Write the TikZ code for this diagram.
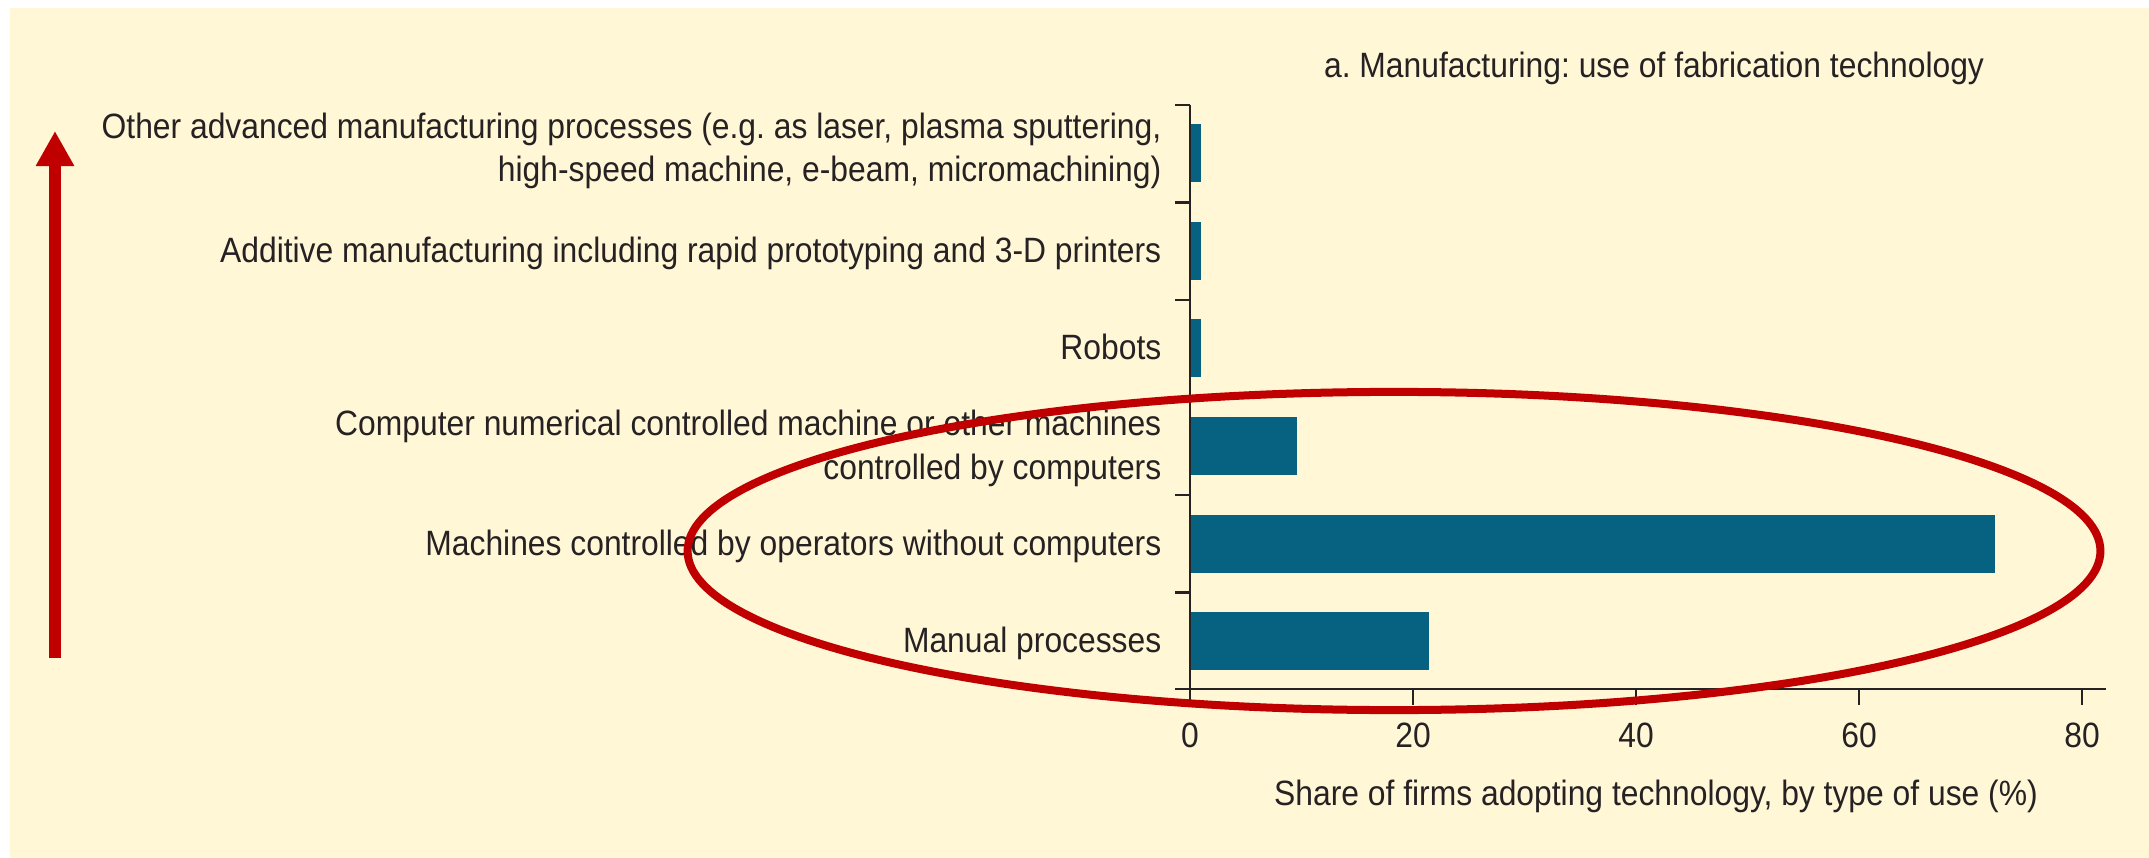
\documentclass[tikz,border=0pt]{standalone}
\usepackage{fontspec}
\setmainfont{Liberation Sans}[FakeStretch=0.905]
\usetikzlibrary{arrows.meta}
\definecolor{cream}{RGB}{255,247,214}
\definecolor{barblue}{RGB}{7,97,129}
\definecolor{hilite}{RGB}{192,0,0}
\definecolor{ink}{RGB}{38,34,35}
\frenchspacing

\begin{document}
\begin{tikzpicture}[x=0.01cm,y=-0.01cm,
  lbl/.style={anchor=base east,inner sep=0pt,align=right,text=ink,font=\fontsize{10}{12.4}\selectfont},
  num/.style={anchor=base,inner sep=0pt,text=ink,font=\fontsize{10}{12.4}\selectfont},
  bar/.style={fill=barblue},
  axis/.style={draw=ink,line width=0.6pt}]
\useasboundingbox[fill=white] (0,0) rectangle (2149,858);
\fill [cream] (10,8) rectangle (2149,858);

\node [num] at (1654,78) (title) {a. Manufacturing: use of fabrication technology};

% bars
\fill [bar] (1190,612) rectangle (1429,670);
\fill [bar] (1190,514.5) rectangle (1995,572.5);
\fill [bar] (1190,417) rectangle (1297,475);
\fill [bar] (1190,319.5) rectangle (1201,377.5);
\fill [bar] (1190,222) rectangle (1201,280);
\fill [bar] (1190,124.5) rectangle (1201,182.5);

% axes
\draw [axis] (1190,105) -- (1190,689);
\draw [axis] (1175,689) -- (2106,689);
\draw [axis] (1175,105) -- (1190,105);
\draw [axis] (1175,202.5) -- (1190,202.5);
\draw [axis] (1175,300) -- (1190,300);
\draw [axis] (1175,397.5) -- (1190,397.5);
\draw [axis] (1175,495) -- (1190,495);
\draw [axis] (1175,592.5) -- (1190,592.5);
\draw [axis] (1190,689) -- (1190,705);
\draw [axis] (1413,689) -- (1413,705);
\draw [axis] (1636,689) -- (1636,705);
\draw [axis] (1859,689) -- (1859,705);
\draw [axis] (2082,689) -- (2082,705);

\node [num] at (1190,747) (t0) {0};
\node [num] at (1413,747) (t20) {20};
\node [num] at (1636,747) (t40) {40};
\node [num] at (1859,747) (t60) {60};
\node [num] at (2082,747) (t80) {80};
\node [num] at (1656,805) (xlabel) {Share of firms adopting technology, by type of use (\%)};

% category labels
\node [lbl] at (1162,652) (manual) {Manual processes};
\node [lbl] at (1162,555) (operators) {Machines controlled by operators without computers};
\node [lbl] at (1162,479) (cnc) {Computer numerical controlled machine or other machines\\controlled by computers};
\node [lbl] at (1162,360) (robots) {Robots};
\node [lbl] at (1162,263) (additive) {Additive manufacturing including rapid prototyping and 3-D printers};
\node [lbl] at (1162,182) (other) {Other advanced manufacturing processes (e.g. as laser, plasma sputtering,\\high-speed machine, e-beam, micromachining)};

% highlight
\coordinate (low) at (55,658);
\coordinate (high) at (55,131);
\draw [hilite,line width=0.12cm,-{Triangle[length=0.35cm,width=0.36cm]}] (low) -- (high);
\draw [hilite,line width=0.08cm] (1394,551) ellipse [x radius=7.06cm,y radius=1.59cm];
\end{tikzpicture}
\end{document}
